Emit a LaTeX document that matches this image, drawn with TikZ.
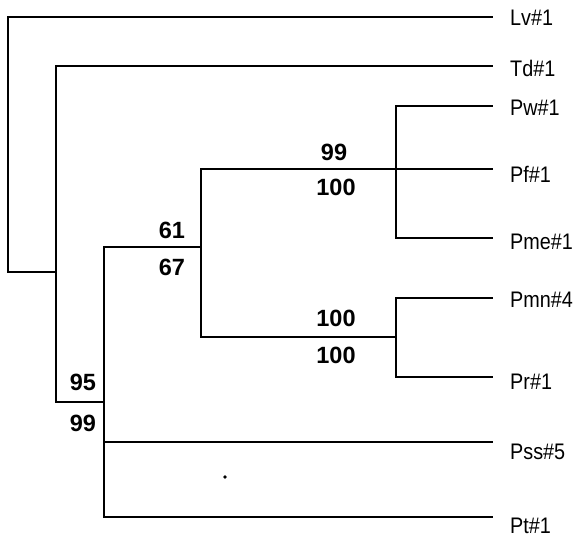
\documentclass[tikz,border=0pt]{standalone}
\usepackage{fontspec}
\setmainfont{Liberation Sans}
\newfontfamily\leaffont[FakeStretch=0.88]{Liberation Sans}
\begin{document}
\begin{tikzpicture}[x=1pt,y=-1pt,
  branch/.style={line width=2.3pt,line cap=rect},
  leaf/.style={anchor=west,inner sep=0pt,font=\leaffont\fontsize{22.5}{24}\selectfont,text height=16pt,text depth=0pt},
  boot/.style={inner sep=0pt,font=\fontsize{23.5}{25}\selectfont\bfseries,text height=17pt,text depth=0pt}]
\useasboundingbox (0,0) rectangle (575,537);
% internal nodes
\coordinate (root) at (8,272);
\coordinate (rootTop) at (8,17);
\coordinate (nA) at (56,272);
\coordinate (nAtop) at (56,66);
\coordinate (nAbot) at (56,402);
\coordinate (nB) at (104,402);
\coordinate (nBtop) at (104,247);
\coordinate (nC) at (201,247);
\coordinate (nCtop) at (201,169);
\coordinate (nCbot) at (201,337);
\coordinate (nD) at (396,169);
\coordinate (nDtop) at (396,106);
\coordinate (nDbot) at (396,238);
\coordinate (nE) at (396,337);
\coordinate (nEtop) at (396,298);
\coordinate (nEbot) at (396,377);
% leaf tips
\coordinate (tLv) at (492,17);
\coordinate (tTd) at (492,66);
\coordinate (tPw) at (492,106);
\coordinate (tPf) at (492,169);
\coordinate (tPme) at (492,238);
\coordinate (tPmn) at (492,298);
\coordinate (tPr) at (492,377);
\coordinate (tPss) at (492,442);
\coordinate (tPt) at (492,517);
% leaf labels
\node[leaf] (Lv) at (510,18) {Lv\#1};
\node[leaf] (Td) at (510,69) {Td\#1};
\node[leaf] (Pw) at (510,108) {Pw\#1};
\node[leaf] (Pf) at (510,175) {Pf\#1};
\node[leaf] (Pme) at (510,242) {Pme\#1};
\node[leaf] (Pmn) at (510,299) {Pmn\#4};
\node[leaf] (Pr) at (510,381) {Pr\#1};
\node[leaf] (Pss) at (510,451) {Pss\#5};
\node[leaf] (Pt) at (510,525) {Pt\#1};
% branches
\draw[branch] (tLv) -- (rootTop) -- (root) -- (nA);
\draw[branch] (tTd) -- (nAtop) -- (nAbot) -- (nB);
\draw[branch] (tPt) -| (nBtop) -- (nC);
\draw[branch] (nB |- tPss) -- (tPss);
\draw[branch] (nCtop) -- (nCbot) -- (nE);
\draw[branch] (nCtop) -- (tPf);
\draw[branch] (tPw) -- (nDtop) -- (nDbot) -- (tPme);
\draw[branch] (tPmn) -- (nEtop) -- (nEbot) -- (tPr);
% bootstrap values
\node[boot] (b1) at (334,152) {99};
\node[boot] (b2) at (336,187) {100};
\node[boot] (b3) at (336,318) {100};
\node[boot] (b4) at (336,355) {100};
\node[boot] (b5) at (172,230) {61};
\node[boot] (b6) at (172,267) {67};
\node[boot] (b7) at (83,382) {95};
\node[boot] (b8) at (83,423) {99};
% speck
\fill (225,477) circle (1.8pt);
\end{tikzpicture}
\end{document}
